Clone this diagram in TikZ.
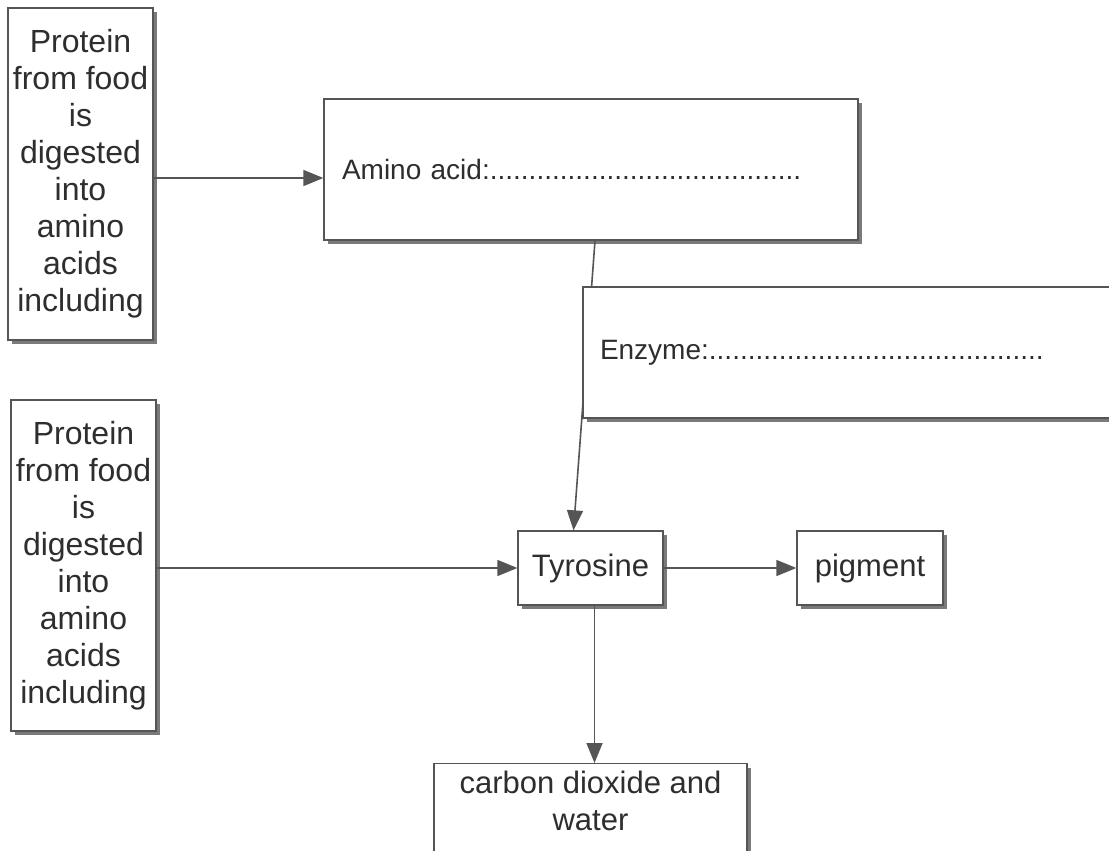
\documentclass[tikz,border=0pt]{standalone}
\usepackage{fontspec}
\setmainfont{Liberation Sans}
\usetikzlibrary{arrows.meta,shadows}
\definecolor{txt}{HTML}{2E2E2E}
\definecolor{ln}{HTML}{555555}
\definecolor{shd}{HTML}{7A7A7A}
\begin{document}
\begin{tikzpicture}[x=1pt,y=-1pt,
 box/.style={draw=ln, line width=1.3pt, fill=white, text=txt, inner sep=0pt,
   drop shadow={shadow xshift=4pt, shadow yshift=-4pt, fill=shd, opacity=1}},
 big/.style={font=\fontsize{32}{37}\selectfont, align=center},
 mid/.style={font=\fontsize{31}{37}\selectfont, align=center},
 sml/.style={font=\fontsize{28}{34}\selectfont},
 arr/.style={draw=ln, line width=1.6pt, -{Triangle[length=20pt,width=16pt]}}]
\fill[white] (0,0) rectangle (1109,851);
\useasboundingbox (0,0) rectangle (1109,851);

\node[box,big,minimum width=145pt,minimum height=332pt] (p1) at (80.5,174)
  {Protein\\from food\\is\\digested\\into\\amino\\acids\\including};
\node[box,sml,minimum width=534pt,minimum height=141pt,text width=498pt,align=left] (amino) at (591,169.5)
  {Amino acid:........................................};
\node[box,big,minimum width=145pt,minimum height=331pt] (p2) at (83.5,565.5)
  {Protein\\from food\\is\\digested\\into\\amino\\acids\\including};
\node[box,mid,minimum width=145pt,minimum height=74pt] (tyr) at (590.5,568) {Tyrosine};
\node[box,mid,minimum width=146pt,minimum height=74pt] (pig) at (870,568) {pigment};

\coordinate (a1) at ([yshift=-4pt]p1.east);
\draw[arr] (a1) -- (a1 -| amino.west);
\draw[arr] ([xshift=4pt]amino.south) -- ([xshift=-17pt]tyr.north);

\node[box,sml,minimum width=530pt,minimum height=131pt,text width=496pt,align=left] (enz) at (848,352.5)
  {Enzyme:...........................................};

\draw[arr] (p2.east |- tyr.west) -- (tyr.west);
\draw[arr] (tyr.east) -- (pig.west);

\node[box,minimum width=313pt,minimum height=107pt,anchor=north] (co2) at (590.5,763) {};
\node[mid,text=txt] (co2t) at (590.5,801) {carbon dioxide and\\water};
\draw[arr] ([xshift=4pt]tyr.south) -- ([xshift=4pt]tyr.south |- co2.north);
\end{tikzpicture}
\end{document}
